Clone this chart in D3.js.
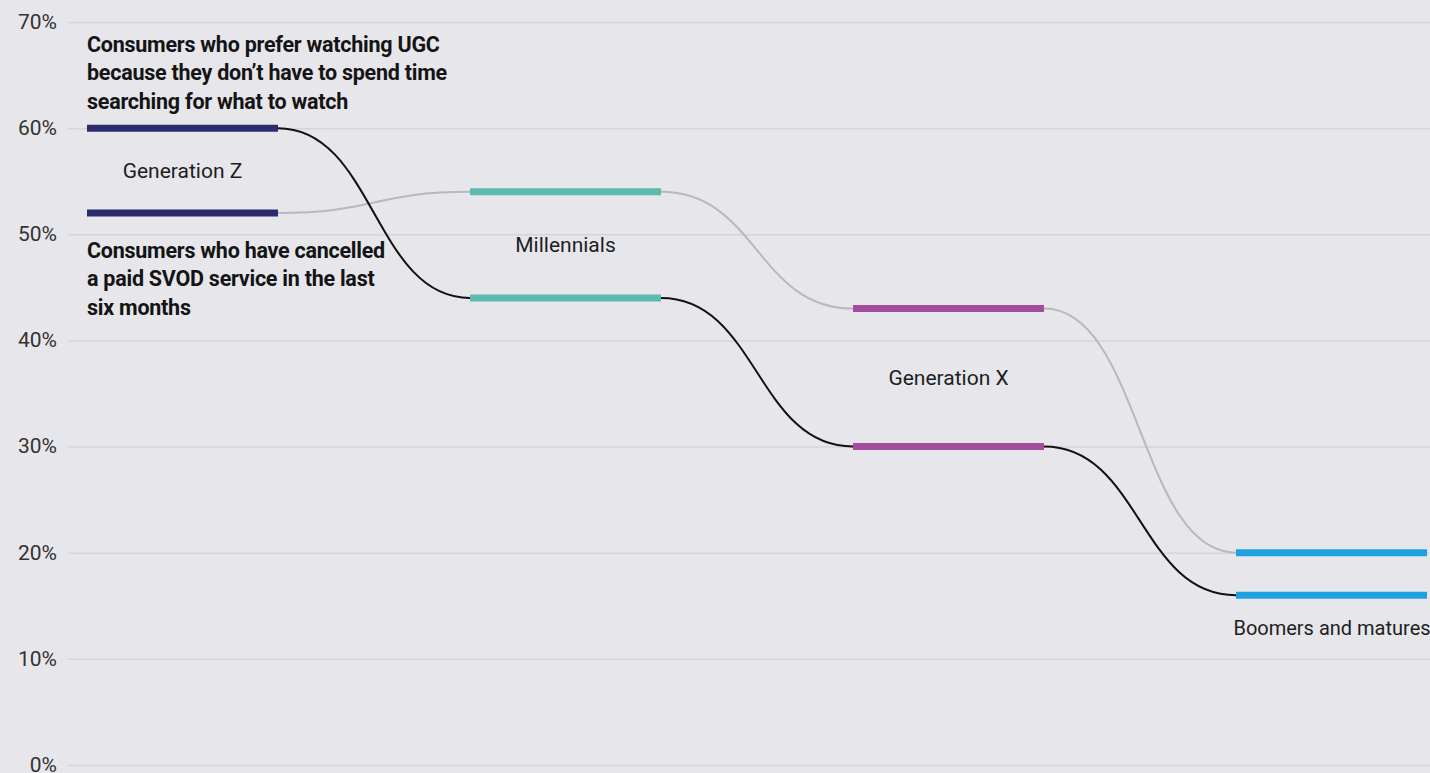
<!DOCTYPE html>
<html><head><meta charset="utf-8">
<script src="https://cdn.jsdelivr.net/npm/d3@7"></script>
<style>
html,body{margin:0;padding:0;background:#e6e6eb;}
svg{display:block;}
text{font-family:"Roboto",sans-serif;}
</style></head>
<body>
<script>
const generations = ["Generation Z","Millennials","Generation X","Boomers and matures"];
const genColors = ["#2b2c6c","#5cbab0","#a24d9d","#1ea2df"];
const ugcValues = [60,44,30,16];
const svodValues = [52,54,43,20];
const yTicks = [0,10,20,30,40,50,60,70];
const ugcLabel = ["Consumers who prefer watching UGC","because they don’t have to spend time","searching for what to watch"];
const svodLabel = ["Consumers who have cancelled","a paid SVOD service in the last","six months"];

const W=1430,H=773;
const svg=d3.select("body").append("svg").attr("width",W).attr("height",H);
svg.append("rect").attr("width",W).attr("height",H).attr("fill","#e6e6eb");

const y=d3.scaleLinear().domain([0,70]).range([765,22]);
const band=d3.scalePoint().domain(generations).range([87,1236]);
const barW=191;

// grid + axis
const axis=d3.axisLeft(y).tickValues(yTicks).tickFormat(d=>d+"%").tickSize(-(W-68)).tickPadding(11);
const g=svg.append("g").attr("transform","translate(68,0)").call(axis);
g.select(".domain").remove();
g.selectAll(".tick line").attr("stroke","#d6d6da").attr("stroke-width",1.5);
g.selectAll(".tick text").attr("fill","#333").attr("font-size",21).attr("dy","0.3em");

// connectors
const link=d3.linkHorizontal().x(d=>d[0]).y(d=>d[1]);
function connectors(vals,color){
  for(let i=0;i<vals.length-1;i++){
    svg.append("path")
      .attr("d",link({source:[band(generations[i])+barW,y(vals[i])],target:[band(generations[i+1]),y(vals[i+1])]}))
      .attr("fill","none").attr("stroke",color).attr("stroke-width",2);
  }
}
connectors(svodValues,"#b9b9bc");
connectors(ugcValues,"#111");

// bars
function bars(vals){
  svg.append("g").selectAll("line").data(vals).join("line")
    .attr("x1",(d,i)=>band(generations[i])).attr("x2",(d,i)=>band(generations[i])+barW)
    .attr("y1",d=>y(d)).attr("y2",d=>y(d))
    .attr("stroke",(d,i)=>genColors[i]).attr("stroke-width",7);
}
bars(ugcValues);bars(svodValues);

// generation labels
const labelY=[(ugcValues[0]+svodValues[0])/2,(ugcValues[1]+svodValues[1])/2,(ugcValues[2]+svodValues[2])/2,null];
svg.append("g").selectAll("text").data(generations).join("text")
  .attr("x",(d,i)=>band(d)+barW/2 - (i==3?-0.5:0))
  .attr("y",(d,i)=>i<3? y(labelY[i]) : y(ugcValues[i])+33)
  .attr("dy","0.35em")
  .attr("text-anchor","middle").attr("font-size",(d,i)=>i==3?20:21).attr("fill","#1e1e1e")
  .text(d=>d);

// annotations
function ann(lines,y0){
  svg.append("text").attr("x",87).attr("y",y0).attr("font-size",21.5).attr("font-weight","bold").attr("fill","#141414")
   .style("letter-spacing","-0.25px")
   .selectAll("tspan").data(lines).join("tspan").attr("x",87).attr("dy",(d,i)=>i?28.3:0).text(d=>d);
}
ann(ugcLabel,52);
ann(svodLabel,258);
</script>
</body></html>
